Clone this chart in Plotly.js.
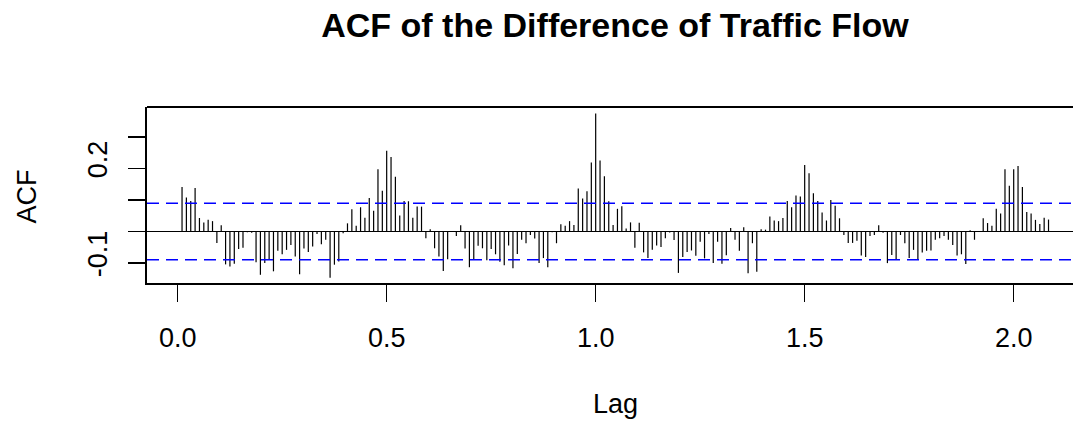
<!DOCTYPE html>
<html>
<head>
<meta charset="utf-8">
<script src="https://cdn.plot.ly/plotly-3.0.1.min.js"></script>
<style>
  html, body { margin: 0; padding: 0; background: #ffffff; overflow: hidden; }
  #chart { width: 1073px; height: 423px; }
</style>
</head>
<body>
<div id="chart"></div>
<script>
// ACF values for lags 1..200 (lag unit = 1/96)
const acfValues = [
  0.141, 0.108, 0.097, 0.138, 0.043, 0.029, 0.037, 0.033, -0.036, 0.020,
  -0.104, -0.111, -0.102, -0.055, -0.051, -0.002, -0.004, -0.097, -0.137, -0.100,
  -0.089, -0.126, -0.061, -0.072, -0.058, -0.043, -0.079, -0.135, -0.054, -0.065,
  -0.047, -0.008, -0.040, -0.026, -0.146, -0.105, -0.095, -0.005, 0.026, 0.071,
  0.018, 0.077, 0.044, 0.106, 0.066, 0.197, 0.129, 0.256, 0.236, 0.174,
  0.051, 0.097, 0.096, 0.044, 0.079, 0.079, -0.021, 0.007, -0.053, -0.079,
  -0.125, -0.088, -0.001, -0.014, 0.020, -0.054, -0.113, -0.089, -0.045, -0.053,
  -0.091, -0.055, -0.072, -0.096, -0.107, -0.044, -0.116, -0.071, -0.026, -0.037,
  -0.011, -0.022, -0.100, -0.084, -0.113, -0.002, -0.037, 0.023, 0.018, 0.033,
  0.021, 0.136, 0.105, 0.128, 0.219, 0.374, 0.225, 0.175, 0.096, 0.021,
  0.072, 0.080, 0.010, 0.029, -0.051, 0.028, -0.066, -0.084, -0.058, -0.044,
  -0.049, -0.021, -0.003, -0.027, -0.131, -0.081, -0.065, -0.060, -0.077, -0.032,
  -0.085, -0.008, -0.100, -0.032, -0.102, -0.075, 0.011, -0.026, -0.061, 0.014,
  -0.132, -0.037, -0.127, 0.007, 0.006, 0.048, 0.035, 0.033, 0.043, 0.097,
  0.077, 0.114, 0.111, 0.211, 0.185, 0.121, 0.097, 0.060, 0.035, 0.100,
  0.082, 0.042, -0.011, -0.036, -0.036, -0.029, -0.076, -0.081, -0.014, -0.011,
  0.020, -0.004, -0.100, -0.074, -0.089, -0.011, -0.037, -0.084, -0.058, -0.089,
  -0.066, -0.061, -0.060, -0.026, -0.021, -0.014, -0.026, -0.043, -0.076, -0.072,
  -0.103, 0.004, -0.026, 0.001, 0.042, 0.027, 0.018, 0.072, 0.057, 0.197,
  0.145, 0.197, 0.208, 0.141, 0.062, 0.057, 0.037, 0.024, 0.044, 0.038
];
const frequency = 96;
const confBound = 0.0895;

const xTickVals = [0, 0.5, 1, 1.5, 2];
const xTickText = ['0.0', '0.5', '1.0', '1.5', '2.0'];
const yTickVals = [-0.1, 0, 0.1, 0.2, 0.3];
const yTickText = ['-0.1', '', '', '0.2', ''];

const titleText = 'ACF of the Difference of Traffic Flow';
const xTitle = 'Lag';
const yTitle = 'ACF';

const lags = acfValues.map((v, i) => (i + 1) / frequency);

// vertical spikes from 0 to each ACF value (R type = "h")
const sx = [], sy = [];
lags.forEach((lag, i) => {
  sx.push(lag, lag, null);
  sy.push(0, acfValues[i], null);
});

const FONT = 'Liberation Sans, Arial, Helvetica, sans-serif';

const traces = [{
  type: 'scatter',
  mode: 'lines',
  x: sx,
  y: sy,
  line: { color: '#000000', width: 1.2 },
  hoverinfo: 'skip',
  showlegend: false
}];

const layout = {
  width: 1073,
  height: 423,
  margin: { l: 147, r: 0, t: 107, b: 140, pad: 0 },
  paper_bgcolor: '#ffffff',
  plot_bgcolor: '#ffffff',
  showlegend: false,
  font: { family: FONT, color: '#000000', size: 27 },
  title: {
    text: '<b>' + titleText + '</b>',
    font: { family: FONT, size: 34, color: '#000000' },
    x: 615 / 1073, xref: 'container', xanchor: 'center',
    y: 1 - 25.5 / 423, yref: 'container', yanchor: 'middle'
  },
  xaxis: {
    range: [-0.0734, 2.1419],
    tickmode: 'array',
    tickvals: xTickVals,
    ticktext: xTickText,
    ticks: 'outside',
    ticklen: 17,
    tickwidth: 1.6,
    tickcolor: '#000000',
    showline: true,
    linecolor: '#000000',
    linewidth: 1.8,
    showgrid: false,
    zeroline: false,
    automargin: false,
    tickfont: { family: FONT, size: 27, color: '#000000' },
    ticklabelstandoff: 13
  },
  yaxis: {
    range: [-0.163, 0.3946],
    tickmode: 'array',
    tickvals: yTickVals,
    ticktext: yTickText,
    ticks: 'outside',
    ticklen: 17,
    tickwidth: 1.6,
    tickcolor: '#000000',
    tickangle: -90,
    showline: true,
    linecolor: '#000000',
    linewidth: 1.8,
    showgrid: false,
    zeroline: true,
    zerolinecolor: '#000000',
    zerolinewidth: 1.5,
    automargin: false,
    tickfont: { family: FONT, size: 27, color: '#000000' },
    ticklabelstandoff: 10,
    ticklabelshift: -5
  },
  shapes: [
    { type: 'line', xref: 'paper', x0: 0, x1: 1, yref: 'y', y0: confBound, y1: confBound,
      line: { color: '#0000FF', width: 1.6, dash: '12px,7px' } },
    { type: 'line', xref: 'paper', x0: 0, x1: 1, yref: 'y', y0: -confBound, y1: -confBound,
      line: { color: '#0000FF', width: 1.6, dash: '12px,7px' } },
    { type: 'line', xref: 'paper', x0: 0, x1: 1, yref: 'paper', y0: 1, y1: 1,
      line: { color: '#000000', width: 1.8 } }
  ],
  annotations: [
    { text: xTitle, xref: 'paper', x: (615 - 147) / 926, yref: 'paper', y: 0,
      yshift: -121, xanchor: 'center', yanchor: 'middle', showarrow: false,
      font: { family: FONT, size: 27, color: '#000000' } },
    { text: yTitle, xref: 'paper', x: 0, xshift: -120.5, yref: 'paper', y: 0.5,
      yshift: -2, xanchor: 'center', yanchor: 'middle', textangle: -90, showarrow: false,
      font: { family: FONT, size: 27, color: '#000000' } }
  ]
};

Plotly.newPlot('chart', traces, layout, { staticPlot: true, displayModeBar: false });
</script>
</body>
</html>
